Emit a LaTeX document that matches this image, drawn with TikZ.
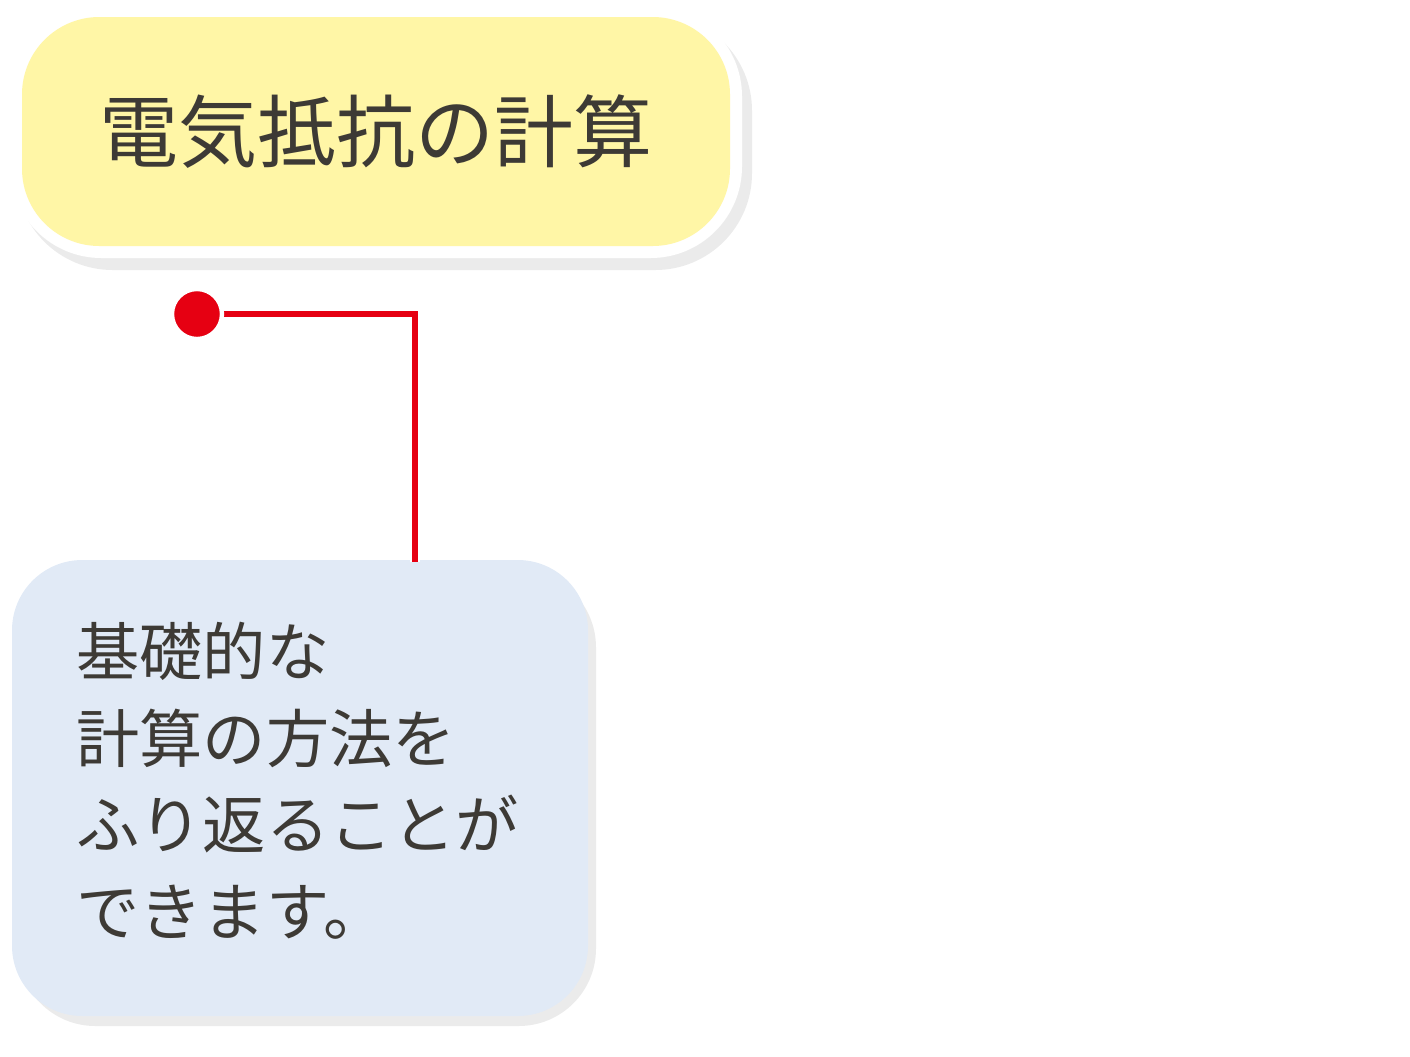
\documentclass[tikz,border=0pt]{standalone}
\usepackage{fontspec}
\newfontfamily\jp{Noto Sans CJK JP}
\begin{document}
\begin{tikzpicture}[x=0.02cm,y=-0.02cm]
\useasboundingbox (0,0) rectangle (1410,1056);
\definecolor{ink}{HTML}{3D3A35}
\definecolor{ylw}{HTML}{FFF6A6}
\definecolor{blu}{HTML}{E1EAF6}
\definecolor{rd}{HTML}{E60012}
\tikzset{shade/.style={fill=black,opacity=0.08}}
% title box
\fill[shade,rounded corners=55] (16,14) rectangle (752,270);
\fill[white,rounded corners=52] (10,5) rectangle (742,258);
\node[fill=ylw,rounded corners=44,minimum width=708*0.02cm,minimum height=229*0.02cm,inner sep=0,font=\jp\fontsize{45}{50}\selectfont,text=ink] (title) at (376,131.5) {電気抵抗の計算};
% connector
\coordinate (corner) at (415,314);
\node[circle,fill=rd,draw=white,line width=2.5pt,minimum size=50*0.02cm,inner sep=0] (dot) at (197,314) {};
% blue box
\fill[shade,rounded corners=44] (18,570) rectangle (596,1026);
\node[fill=blu,rounded corners=40,minimum width=576*0.02cm,minimum height=456*0.02cm,inner sep=0] (body) at (300,788) {};
\coordinate (bend) at (415,562);
\draw[white,line width=5.5pt] (dot.center) -- (corner) -- (bend);
\draw[rd,line width=3pt] (dot.center) -- (corner) -- (bend);
\node[circle,fill=rd,draw=white,line width=2.5pt,minimum size=50*0.02cm,inner sep=0] at (dot) {};
\node[anchor=north west,align=left,inner sep=0,font=\jp\fontsize{36}{49.3}\selectfont,text=ink] (txt) at (76,622) {基礎的な\\計算の方法を\\ふり返ることが\\できます。};
\end{tikzpicture}
\end{document}
